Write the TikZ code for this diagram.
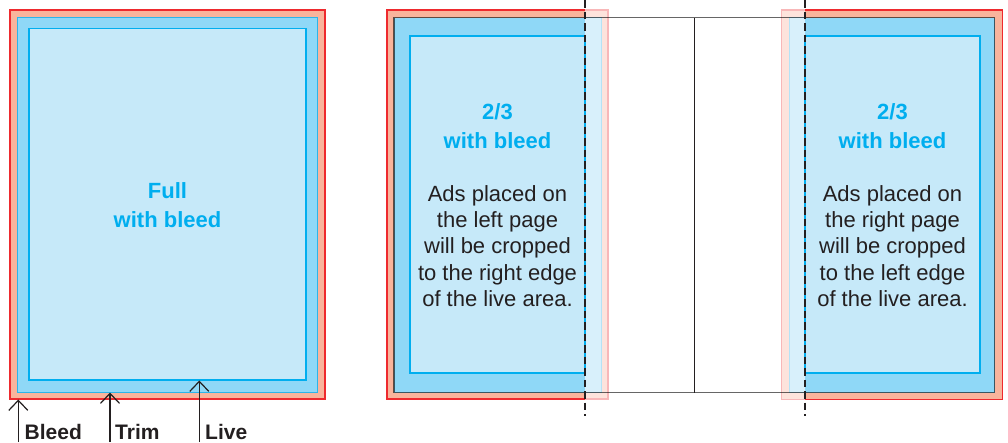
\documentclass[tikz,border=0pt]{standalone}
\usepackage{fontspec}
\setmainfont{Liberation Sans}
\usetikzlibrary{arrows.meta}
\definecolor{bleedfill}{HTML}{F9B49C}
\definecolor{bleedline}{HTML}{EE2A2E}
\definecolor{trimfill}{HTML}{8FD8F7}
\definecolor{trimline}{HTML}{2BB5EA}
\definecolor{livefill}{HTML}{C6E9F9}
\definecolor{liveline}{HTML}{00AEEF}
\definecolor{fadebleed}{HTML}{FDE3DC}
\definecolor{fadebleedline}{HTML}{F8B7B8}
\definecolor{fadetrim}{HTML}{D8F0FB}
\definecolor{fadetrimline}{HTML}{B5E3F6}
\definecolor{ink}{HTML}{231F20}
\definecolor{cyantext}{HTML}{00AEEF}
\begin{document}
\begin{tikzpicture}[x=1pt,y=-1pt,
  bleedbox/.style={fill=bleedfill,draw=bleedline,line width=1.2pt},
  bleedfillonly/.style={fill=bleedfill},
  bleededge/.style={draw=bleedline,line width=1.2pt},
  trimbox/.style={fill=trimfill,draw=trimline,line width=1pt},
  trimfillonly/.style={fill=trimfill},
  livebox/.style={fill=livefill,draw=liveline,line width=1.2pt},
  fadebleedbox/.style={fill=fadebleed,draw=fadebleedline,line width=1.2pt},
  fadetrimbox/.style={fill=fadetrim,draw=fadetrimline,line width=1pt},
  pageedge/.style={draw=black,draw opacity=0.6,line width=1.4pt},
  spine/.style={draw=ink,line width=1.1pt},
  cutline/.style={draw=ink,line width=2.8pt,dash pattern=on 7.5pt off 4pt},
  head/.style={inner sep=0pt,anchor=base,text=cyantext,font=\fontsize{22}{26}\selectfont\bfseries},
  body/.style={inner sep=0pt,anchor=base,text=ink,font=\fontsize{22}{26}\selectfont},
  lbl/.style={inner sep=0pt,anchor=base west,text=ink,font=\fontsize{21}{25}\selectfont\bfseries},
  pointer/.style={draw=ink,line width=1.2pt,-{Straight Barb[length=10pt,width=19pt]}}
]
\useasboundingbox (0,0) rectangle (1008,442);

% ---------- Full page ----------
\draw[bleedbox] (10,10) rectangle (325,399);
\draw[trimbox] (17.5,17) rectangle (317.5,392);
\draw[livebox] (29,28.5) rectangle (306,380);
\node[head] (fullA) at (167.5,198.3) {Full};
\node[head] (fullB) at (167.5,227.3) {with bleed};

% arrows and labels
\coordinate (bleedtip) at (18.3,399.5);
\coordinate (bleedfoot) at (18.3,442);
\coordinate (trimtip) at (110,392.5);
\coordinate (trimfoot) at (110,442);
\coordinate (livetip) at (199.3,380.5);
\coordinate (livefoot) at (199.3,442);
\draw[pointer] (bleedfoot) -- (bleedtip);
\draw[pointer] (trimfoot) -- (trimtip);
\draw[pointer] (livefoot) -- (livetip);
\node[lbl] (lblbleed) at (24.5,439) {Bleed};
\node[lbl] (lbltrim) at (115,439) {Trim};
\node[lbl] (lbllive) at (205,439) {Live};

% ---------- Spread: left page ----------
\draw[fadebleedbox] (387,10) rectangle (608,399);
\draw[fadetrimbox] (394,17.7) rectangle (601,392.5);
\fill[bleedfillonly] (387,10) rectangle (585,399);
\draw[bleededge] (585,10) -- (387,10) -- (387,399) -- (585,399);
\fill[trimfillonly] (394,17.7) rectangle (585,392.5);
\draw[livebox] (410,36) rectangle (585,373);

% ---------- Spread: right page ----------
\draw[fadebleedbox] (781.7,10) rectangle (1002.3,399.3);
\draw[fadetrimbox] (789.3,17.7) rectangle (994.7,392.5);
\fill[bleedfillonly] (805,10) rectangle (1002.3,399.3);
\draw[bleededge] (805,10) -- (1002.3,10) -- (1002.3,399.3) -- (805,399.3);
\fill[trimfillonly] (805,17.7) rectangle (994.7,392.5);
\draw[livebox] (805,36) rectangle (980,373);

% page edges and spine
\draw[pageedge] (394,17.7) rectangle (994.7,392.5);
\draw[spine] (694.7,17.7) -- (694.7,392.5);

% cut lines
\draw[cutline] (585,0) -- (585,416);
\draw[cutline] (805,0) -- (805,416);

% ---------- texts ----------
\node[head] (lhA) at (497.5,119.3) {2/3};
\node[head] (lhB) at (497.5,148.3) {with bleed};
\foreach \t [count=\i] in {Ads placed on,the left page,will be cropped,to the right edge,of the live area.}
  \node[body] (lb\i) at (497.5,{201+26.4*(\i-1)}) {\t};

\node[head] (rhA) at (892.5,119.3) {2/3};
\node[head] (rhB) at (892.5,148.3) {with bleed};
\foreach \t [count=\i] in {Ads placed on,the right page,will be cropped,to the left edge,of the live area.}
  \node[body] (rb\i) at (892.5,{201+26.4*(\i-1)}) {\t};
\end{tikzpicture}
\end{document}
